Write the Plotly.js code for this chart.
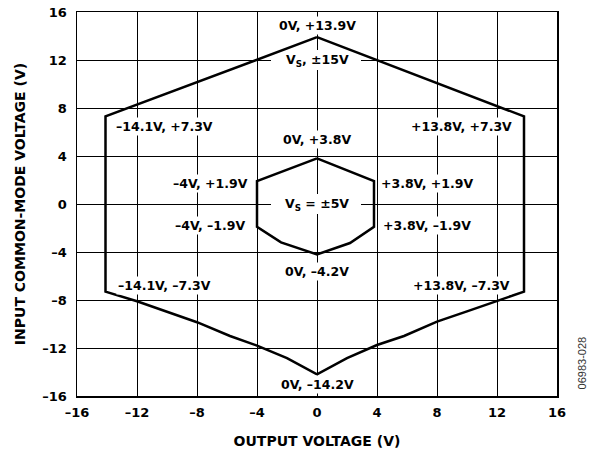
<!DOCTYPE html>
<html>
<head>
<meta charset="utf-8">
<script src="https://cdn.plot.ly/plotly-3.0.1.min.js"></script>
<style>html,body{margin:0;padding:0;background:#fff;}</style>
</head>
<body>
<div id="chart" style="width:593px;height:455px;"></div>
<script>
// Outer boundary (VS = ±15V)
const outerX = [0, 13.8, 13.8, 12, 10, 8, 5.8, 4, 2, 0, -2, -4, -5.8, -8, -10, -12, -14.1, -14.1, 0];
const outerY = [13.9, 7.3, -7.3, -8.1, -8.95, -9.8, -11.0, -11.75, -12.85, -14.2, -12.85, -11.8, -11.0, -9.85, -8.95, -8.1, -7.3, 7.3, 13.9];
// Inner boundary (VS = ±5V)
const innerX = [0, 3.8, 3.8, 2.2, 0, -2.4, -4, -4, 0];
const innerY = [3.8, 1.9, -1.9, -3.25, -4.2, -3.2, -1.9, 1.9, 3.8];

const tickVals = [-16, -12, -8, -4, 0, 4, 8, 12, 16];
const tickText = ['–16', '–12', '–8', '–4', '0', '4', '8', '12', '16'];

const labelText = ['0V, +13.9V', 'V<sub>S</sub>, ±15V', '–14.1V, +7.3V', '+13.8V, +7.3V', '0V, +3.8V',
  '–4V, +1.9V', '+3.8V, +1.9V', '–4V, –1.9V', '+3.8V, –1.9V', 'V<sub>S</sub> = ±5V', '0V, –4.2V',
  '–14.1V, –7.3V', '+13.8V, –7.3V', '0V, –14.2V'];
const labelX = [0, 0, -10.15, 9.65, 0, -7.13, 7.35, -7.13, 7.35, 0, 0, -10.15, 9.65, 0];
const labelY = [14.85, 12, 6.48, 6.5, 5.4, 1.7, 1.7, -1.78, -1.78, 0, -5.64, -6.78, -6.76, -15.08];

const FONT = 'DejaVu Sans, Liberation Sans, Arial, sans-serif';

const traces = [
  {x: outerX, y: outerY, type: 'scatter', mode: 'lines', line: {color: '#000', width: 2.5}, hoverinfo: 'skip'},
  {x: innerX, y: innerY, type: 'scatter', mode: 'lines', line: {color: '#000', width: 2.5}, hoverinfo: 'skip'}
];

const annotations = [];
const shapes = [];
labelText.forEach((t, i) => {
  const isVs = t.indexOf('<sub>') >= 0;
  annotations.push({
    x: labelX[i], y: labelY[i], xref: 'x', yref: 'y', text: t, showarrow: false,
    xanchor: 'center', yanchor: 'middle',
    font: {family: FONT, size: 12.5, color: '#000', weight: 'bold'},
    bgcolor: isVs ? 'rgba(0,0,0,0)' : '#fff', borderpad: 1
  });
  if (isVs) {
    // white gap in the grid behind the label, drawn under the curves
    shapes.push({
      type: 'rect', layer: 'between', xref: 'x', yref: 'y',
      xsizemode: 'pixel', ysizemode: 'pixel',
      xanchor: labelX[i], yanchor: labelY[i],
      x0: -46, x1: 44, y0: -10, y1: 10,
      fillcolor: '#fff', line: {width: 0}
    });
  }
});
annotations.push({
  x: 1.053, y: 0.086, xref: 'paper', yref: 'paper', text: '06983-028', showarrow: false,
  textangle: -90, xanchor: 'center', yanchor: 'middle',
  font: {family: 'Liberation Sans, Arial, sans-serif', size: 11, color: '#333'}
});

const axisCommon = {
  range: [-16, 16], tickvals: tickVals, ticktext: tickText, ticks: '',
  showgrid: true, gridcolor: '#000', gridwidth: 1, zeroline: false,
  showline: true, mirror: true, linecolor: '#000', linewidth: 1.5,
  tickfont: {family: FONT, size: 13, color: '#000', weight: 'bold'},
  fixedrange: true, automargin: false
};

const layout = {
  width: 593, height: 455,
  margin: {l: 77, r: 36, t: 12, b: 59},
  paper_bgcolor: '#fff', plot_bgcolor: '#fff',
  showlegend: false,
  xaxis: Object.assign({}, axisCommon, {
    ticklabelstandoff: 4,
    title: {text: 'OUTPUT VOLTAGE (V)', font: {family: FONT, size: 14, color: '#000', weight: 'bold'}, standoff: 17}
  }),
  yaxis: Object.assign({}, axisCommon, {
    ticklabelstandoff: 6,
    title: {text: 'INPUT COMMON-MODE VOLTAGE (V)', font: {family: FONT, size: 14, color: '#000', weight: 'bold'}, standoff: 13}
  }),
  shapes: shapes,
  annotations: annotations
};

Plotly.newPlot('chart', traces, layout, {staticPlot: true, displayModeBar: false});
</script>
</body>
</html>
